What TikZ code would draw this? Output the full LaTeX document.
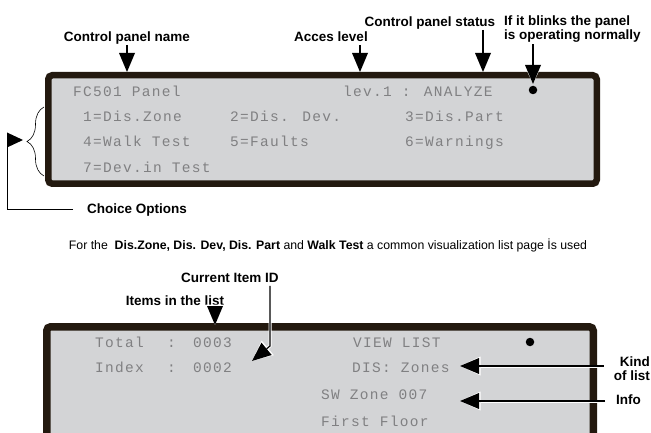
\documentclass[tikz,border=0pt]{standalone}
\usepackage{fontspec}
\setmainfont{Liberation Sans}
\newfontfamily\lcdfont[LetterSpace=9]{Liberation Mono}
\usetikzlibrary{arrows.meta,decorations.pathreplacing}
\definecolor{bord}{RGB}{35,25,15}
\definecolor{lcdbg}{RGB}{211,212,214}
\definecolor{lcdtx}{RGB}{128,128,130}
\tikzset{
  lbl/.style={font=\fontsize{13.5}{13.3}\selectfont\bfseries, inner sep=0pt, text height=9.5pt, text depth=0pt},
  lcd/.style={font=\fontsize{14.5}{14.5}\lcdfont, text=lcdtx, inner sep=0pt, anchor=west, text height=10pt, text depth=0pt},
  panel/.style={draw=bord, fill=lcdbg, line width=6.5pt, rounded corners=4pt},
  pointer/.style={line width=1.2pt, -{Triangle[length=19pt,width=16pt,line width=0pt]},
    preaction={draw=white, line width=3pt, -{Triangle[length=20.5pt,width=19pt,line width=0pt]}}},
  chev/.style={line width=0.8pt, -{Triangle[length=16pt,width=15pt,line width=0pt]}},
  led/.style={circle, fill=black, inner sep=0pt, minimum size=8.5pt},
}
\begin{document}
\begin{tikzpicture}[x=1pt,y=-1pt]
\useasboundingbox (0,0) rectangle (651,433);
\clip (0,0) rectangle (651,433);
% ---------- upper panel ----------
\node[panel, minimum width=548.5pt, minimum height=108.5pt, inner sep=0pt] (p1) at (322.5,129.5) {};
\node[lcd] (t1) at (73,92) {FC501 Panel};
\node[lcd] (t2) at (343,92) {lev.1 : ANALYZE};
\node[lcd] (o1) at (83,117) {1=Dis.Zone};
\node[lcd] (o2) at (230,117) {2=Dis. Dev.};
\node[lcd] (o3) at (405,117) {3=Dis.Part};
\node[lcd] (o4) at (83,142) {4=Walk Test};
\node[lcd] (o5) at (230,142) {5=Faults};
\node[lcd] (o6) at (405,142) {6=Warnings};
\node[lcd] (o7) at (83,167) {7=Dev.in Test};
\node[led] (d1) at (533,90) {};
% labels on top
\node[lbl] (cpn) at (127,37) {Control panel name};
\coordinate (cpnT) at (127,72);
\draw[pointer, shorten <=3pt] (cpn.south) -- (cpnT);
\node[lbl] (al) at (331,37) {Acces level};
\coordinate (alT) at (360,72);
\draw[pointer, shorten <=3pt] (al.south -| alT) -- (alT);
\node[lbl] (cps) at (430,22) {Control panel status};
\coordinate (cpsT) at (483,72);
\draw[pointer, shorten <=3pt] (cps.south -| cpsT) -- (cpsT);
\node[lbl, anchor=north west, align=left, text height=, text depth=] (blk) at (504,16)
  {If it blinks the panel\\is operating normally};
\coordinate (blkT) at (533,84);
\draw[pointer, shorten <=2pt] (blk.south -| blkT) -- (blkT);
% brace and choice options
\draw[line width=0.6pt, decorate, decoration={brace, amplitude=17pt}] (44,176) -- (44,107);
\node[lbl, anchor=west] (co) at (87,209) {Choice Options};
\coordinate (cbr) at (23,140);
\draw[chev] ([xshift=-14pt]co.west) -| (7,140) -- (cbr);
% sentence
\node[font=\fontsize{12.3}{12.3}\selectfont, inner sep=0pt] (sent) at (328,245)
  {For the \ \textbf{Dis.Zone, Dis. Dev, Dis. Part} and \textbf{Walk Test} a common visualization list page İs used};
% ---------- lower panel ----------
\draw[panel, line width=7.5pt] (46.75,326.75) rectangle (593.25,460);
\node[lcd] (l1) at (95,342) {Total};
\node[lcd] (l2) at (167,342) {:};
\node[lcd] (l3) at (193,342) {0003};
\node[lcd] (l4) at (95,367) {Index};
\node[lcd] (l5) at (167,367) {:};
\node[lcd] (l6) at (193,367) {0002};
\node[lcd] (r1) at (353,342) {VIEW LIST};
\node[lcd] (r2) at (352,367) {DIS: Zones};
\node[lcd] (r3) at (321,394) {SW Zone 007};
\node[lcd] (r4) at (321,421) {First Floor};
\node[led] (d2) at (530,342) {};
% labels lower
\node[lbl] (itl) at (175,301) {Items in the list};
\coordinate (itlT) at (215,325);
\draw[pointer] (itl.south -| itlT) -- (itlT);
\node[lbl] (cid) at (230,278) {Current Item ID};
\coordinate (cidB) at (270,346);
\coordinate (cidT) at (252,361);
\draw[pointer, shorten <=3pt] (cid.south -| cidB) -- (cidB) -- (cidT);
\node[lbl, anchor=north east, align=right, text height=, text depth=] (kol) at (650,357) {Kind\\of list};
\coordinate (kolT) at (460,366);
\draw[pointer] ([xshift=-10pt]kol.west |- kolT) -- (kolT);
\node[lbl, anchor=west] (inf) at (616,399.5) {Info};
\coordinate (infT) at (460,401);
\draw[pointer] ([xshift=-11pt]inf.west |- infT) -- (infT);
\end{tikzpicture}
\end{document}
